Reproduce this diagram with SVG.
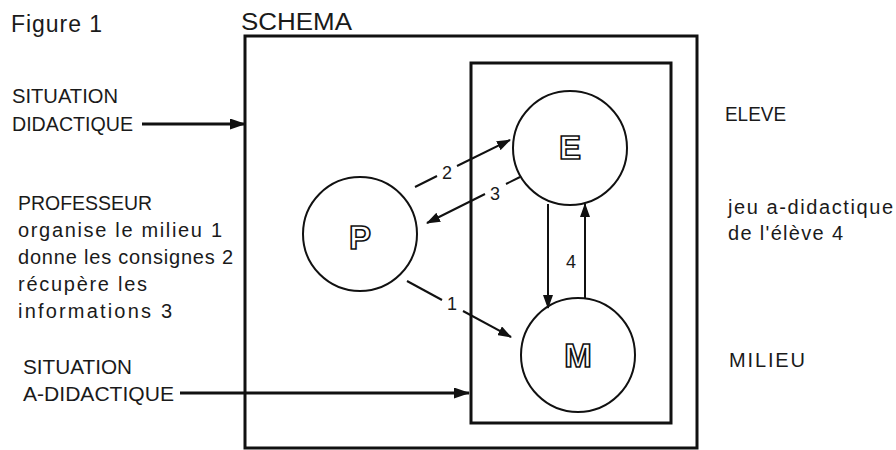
<svg xmlns="http://www.w3.org/2000/svg" width="896" height="450" viewBox="0 0 896 450">
<defs>
<style>
.t{font-family:"Liberation Sans",Arial,sans-serif;fill:#1a1a1a;}
.lab{font-size:20px;}
.big{font-size:23px;}
.num{font-size:18px;text-anchor:middle;}
.box{fill:none;stroke:#111;stroke-width:3;}
.circ{fill:#fff;stroke:#111;stroke-width:2;}
.let{font-family:"Liberation Sans",Arial,sans-serif;font-weight:bold;font-size:33px;fill:#fff;stroke:#111;stroke-width:1.6;text-anchor:middle;}
.ln{fill:none;stroke:#111;stroke-width:2;}
.thick{fill:none;stroke:#111;stroke-width:3;}
</style>
<marker id="ah" viewBox="0 0 14 10" refX="13" refY="5" markerWidth="14" markerHeight="10" markerUnits="userSpaceOnUse" orient="auto"><path d="M0,0 L14,5 L0,10 z" fill="#111"/></marker>
<marker id="ahb" viewBox="0 0 16 11" refX="15" refY="5.5" markerWidth="16" markerHeight="11" markerUnits="userSpaceOnUse" orient="auto"><path d="M0,0 L16,5.5 L0,11 z" fill="#111"/></marker>
</defs>
<rect width="896" height="450" fill="#fff"/>

<g id="titles">
<text class="t big" x="11" y="32" textLength="91" lengthAdjust="spacing">Figure 1</text>
<text class="t big" x="241" y="30" textLength="111" lengthAdjust="spacingAndGlyphs">SCHEMA</text>
</g>

<g id="schema-box"><rect class="box" x="245" y="36" width="452" height="412"/></g>
<g id="inner-box"><rect class="box" x="471" y="63" width="200" height="360"/></g>

<g id="node-P"><circle class="circ" cx="360" cy="234" r="57"/><text class="let" x="360" y="249">P</text></g>
<g id="node-E"><circle class="circ" cx="570" cy="148" r="57"/><text class="let" x="570" y="159">E</text></g>
<g id="node-M"><circle class="circ" cx="578" cy="355" r="57"/><text class="let" x="578" y="367">M</text></g>

<g id="connectors">
<line class="thick" x1="142" y1="124" x2="245" y2="124" marker-end="url(#ahb)"/>
<line class="thick" x1="180" y1="393" x2="469" y2="393" marker-end="url(#ahb)"/>
<line class="ln" x1="415" y1="187" x2="437" y2="176"/>
<line class="ln" x1="457" y1="166" x2="510" y2="140" marker-end="url(#ah)"/>
<line class="ln" x1="520" y1="177" x2="506" y2="184"/>
<line class="ln" x1="485" y1="194" x2="427" y2="223" marker-end="url(#ah)"/>
<line class="ln" x1="407" y1="281" x2="442" y2="300"/>
<line class="ln" x1="463" y1="311" x2="511" y2="337" marker-end="url(#ah)"/>
<line class="ln" x1="548" y1="204" x2="548" y2="308" marker-end="url(#ah)"/>
<line class="ln" x1="585" y1="298" x2="585" y2="204" marker-end="url(#ah)"/>
<text class="t num" x="447" y="179">2</text>
<text class="t num" x="495" y="200">3</text>
<text class="t num" x="452" y="310">1</text>
<text class="t num" x="571" y="268">4</text>
</g>

<g id="left-labels">
<text class="t lab" x="12" y="103" textLength="106" lengthAdjust="spacingAndGlyphs">SITUATION</text>
<text class="t lab" x="12" y="131" textLength="121" lengthAdjust="spacingAndGlyphs">DIDACTIQUE</text>
<text class="t lab" x="18" y="210" textLength="134" lengthAdjust="spacingAndGlyphs">PROFESSEUR</text>
<text class="t lab" x="18" y="237" textLength="204" lengthAdjust="spacing">organise le milieu 1</text>
<text class="t lab" x="18" y="264" textLength="215" lengthAdjust="spacing">donne les consignes 2</text>
<text class="t lab" x="18" y="291" textLength="129" lengthAdjust="spacing">récupère les</text>
<text class="t lab" x="18" y="318" textLength="154" lengthAdjust="spacing">informations 3</text>
<text class="t lab" x="23" y="374" textLength="109" lengthAdjust="spacingAndGlyphs">SITUATION</text>
<text class="t lab" x="23" y="401" textLength="151" lengthAdjust="spacingAndGlyphs">A-DIDACTIQUE</text>
</g>

<g id="right-labels">
<text class="t lab" x="725" y="121" textLength="61" lengthAdjust="spacingAndGlyphs">ELEVE</text>
<text class="t lab" x="728" y="214" textLength="165" lengthAdjust="spacing">jeu a-didactique</text>
<text class="t lab" x="728" y="240" textLength="115" lengthAdjust="spacing">de l'élève 4</text>
<text class="t lab" x="729" y="367" textLength="76" lengthAdjust="spacing">MILIEU</text>
</g>
</svg>
